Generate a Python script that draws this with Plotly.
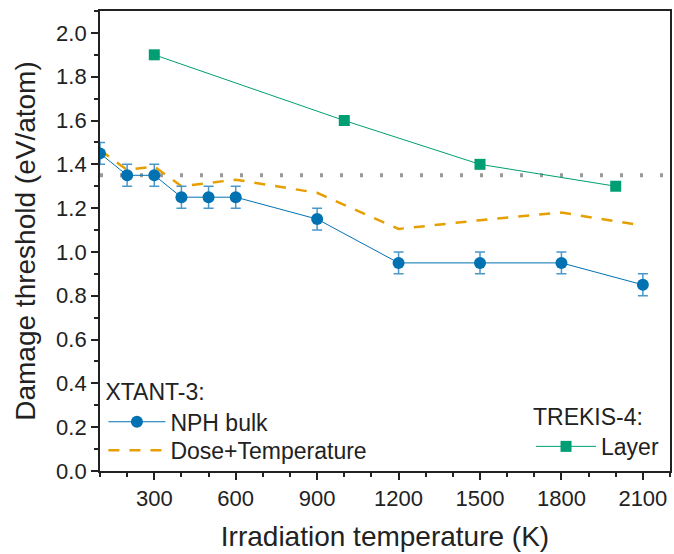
import plotly.graph_objects as go

# Data
nph_x = [100, 200, 300, 400, 500, 600, 900, 1200, 1500, 1800, 2100]
nph_y = [1.45, 1.35, 1.35, 1.25, 1.25, 1.25, 1.15, 0.95, 0.95, 0.95, 0.85]
nph_err = [0.05] * 11

dose_x = [100, 200, 300, 400, 600, 900, 1200, 1500, 1800, 2100]
dose_y = [1.465, 1.375, 1.39, 1.30, 1.33, 1.27, 1.105, 1.145, 1.18, 1.12]

layer_x = [300, 1000, 1500, 2000]
layer_y = [1.9, 1.6, 1.4, 1.3]

ref_x = [100, 2200]
ref_y = [1.35, 1.35]

FONT = "Liberation Sans, Arial, sans-serif"
TXT = "#222222"
BLUE = "#0072B2"
ORANGE = "#E69F00"
GREEN = "#009E73"

fig = go.Figure()

fig.add_trace(go.Scatter(
    x=ref_x, y=ref_y, mode="lines", showlegend=False,
    line=dict(color="#9a9a9a", width=4, dash="3px,17px"), hoverinfo="skip"))

fig.add_trace(go.Scatter(
    x=layer_x, y=layer_y, mode="lines+markers", name="Layer", legend="legend2",
    line=dict(color=GREEN, width=1),
    marker=dict(symbol="square", size=11, color=GREEN)))

fig.add_trace(go.Scatter(
    x=dose_x, y=dose_y, mode="lines", name="Dose+Temperature", legend="legend3",
    line=dict(color=ORANGE, width=2.5, dash="11px,10px")))

fig.add_trace(go.Scatter(
    x=nph_x, y=nph_y, mode="lines+markers", name="NPH bulk", legend="legend",
    line=dict(color=BLUE, width=1),
    marker=dict(symbol="circle", size=12, color=BLUE),
    error_y=dict(type="data", array=nph_err, color="#4a97cc", thickness=1.5, width=5)))

axis_common = dict(
    showline=True, linecolor=TXT, linewidth=1.8, mirror=True,
    ticks="outside", ticklen=7, tickwidth=1.5, tickcolor=TXT,
    showgrid=False, zeroline=False,
    tickfont=dict(family=FONT, size=22, color=TXT),
)

legend_font = dict(family=FONT, size=23, color=TXT)

fig.update_layout(
    width=674, height=554,
    margin=dict(l=100, r=2, t=11, b=83),
    paper_bgcolor="white", plot_bgcolor="white",
    font=dict(family=FONT, color=TXT),
    xaxis=dict(**axis_common, range=[100, 2200], tick0=0, dtick=300,
               minor=dict(dtick=100, ticks="outside", ticklen=4, tickwidth=1.5, tickcolor=TXT),
               title=dict(text="Irradiation temperature (K)", font=dict(family=FONT, size=28, color=TXT), standoff=16)),
    yaxis=dict(**axis_common, range=[0, 2.1], tick0=0, dtick=0.2, tickformat=".1f",
               minor=dict(dtick=0.1, ticks="outside", ticklen=4, tickwidth=1.5, tickcolor=TXT),
               title=dict(text="Damage threshold (eV/atom)", font=dict(family=FONT, size=28, color=TXT), standoff=12)),
    legend=dict(
        title=dict(text="XTANT-3:", font=legend_font),
        font=legend_font,
        x=0.006, y=0.06, xanchor="left", yanchor="bottom",
        bgcolor="rgba(0,0,0,0)", itemwidth=57,
    ),
    legend3=dict(
        font=legend_font,
        x=0.006, y=-0.002, xanchor="left", yanchor="bottom",
        bgcolor="rgba(0,0,0,0)", itemwidth=57,
    ),
    legend2=dict(
        title=dict(text="TREKIS-4:", font=legend_font),
        font=legend_font,
        x=0.9895, y=0.0065, xanchor="right", yanchor="bottom",
        bgcolor="rgba(0,0,0,0)", itemwidth=60,
    ),
)

fig.write_html("out.html")
